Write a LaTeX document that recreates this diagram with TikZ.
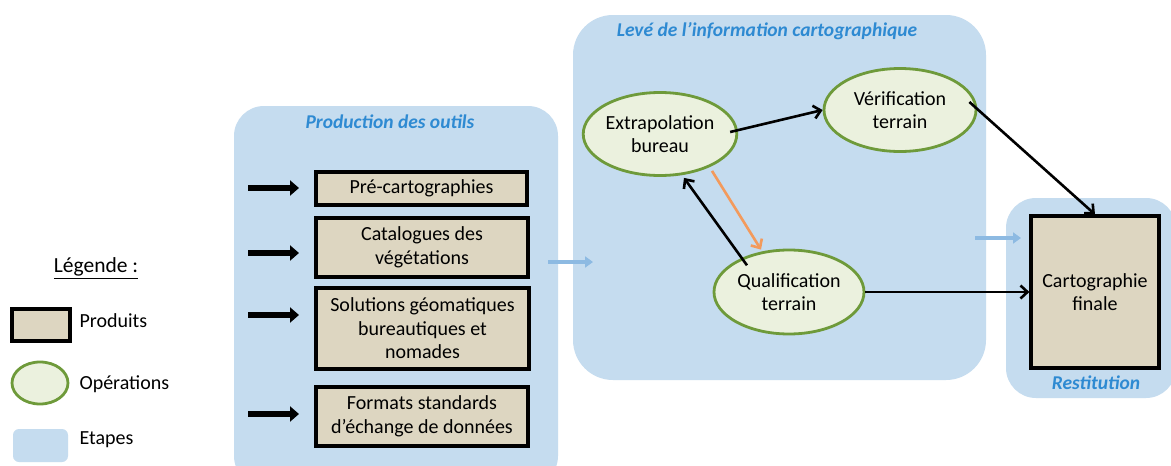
\documentclass[tikz,border=0pt]{standalone}
\usepackage{fontspec}
\setmainfont{Carlito}
\usetikzlibrary{shapes.geometric,arrows.meta}
\definecolor{stagefill}{HTML}{C5DCEF}
\definecolor{stagetitle}{HTML}{2E8AD2}
\definecolor{prodfill}{HTML}{DDD6C1}
\definecolor{opfill}{HTML}{EBF1DE}
\definecolor{opborder}{HTML}{6E9A3A}
\definecolor{bluearrow}{HTML}{8DBAE2}
\definecolor{orangearrow}{HTML}{F39A5C}
\tikzset{
  stagebox/.style={fill=stagefill, draw=none, rounded corners=30pt, inner sep=0pt},
  stagetitlestyle/.style={text=stagetitle, font=\fontsize{19.5}{23}\selectfont\bfseries\itshape},
  prodbox/.style={draw=black, line width=3.2pt, fill=prodfill, align=center, inner sep=2pt, font=\fontsize{20}{23.5}\selectfont},
  opellipse/.style={ellipse, draw=opborder, line width=2.8pt, fill=opfill, align=center, inner sep=0pt, font=\fontsize{20}{23.5}\selectfont},
  bigarrow/.style={line width=5.5pt, -{Triangle[length=9pt,width=15pt]}},
  flowarrow/.style={line width=2.6pt, -{Straight Barb[length=7pt,width=13pt]}},
  stagearrow/.style={line width=4pt, draw=bluearrow, -{Triangle[length=8pt,width=11pt]}},
  legtext/.style={anchor=west, font=\fontsize{20}{23.5}\selectfont},
}
\begin{document}
\begin{tikzpicture}[x=1pt,y=-1pt]
\useasboundingbox (0,0) rectangle (1171,466);
\fill[white] (0,0) rectangle (1171,466);

% stages
\node[stagebox, minimum width=324pt, minimum height=380pt] (s1) at (396,296) {};
\node[stagebox, minimum width=413pt, minimum height=365pt, rounded corners=40pt] (s2) at (779.5,197.5) {};
\node[stagebox, minimum width=170pt, minimum height=200pt] (s3) at (1091,298) {};
\node[stagetitlestyle] (t1) at (390,122) {Production des outils};
\node[stagetitlestyle] (t2) at (767,31) {Levé de l’information cartographique};
\node[stagetitlestyle] (t3) at (1096,383) {Restitution};

% products
\node[prodbox, minimum width=211pt, minimum height=33pt] (p1) at (421.5,188.5) {Pré-cartographies};
\node[prodbox, minimum width=212pt, minimum height=59pt] (p2) at (422,247.5) {Catalogues des\\végétations};
\node[prodbox, minimum width=213pt, minimum height=81pt] (p3) at (422.5,328.5) {Solutions géomatiques\\bureautiques et\\nomades};
\node[prodbox, minimum width=212pt, minimum height=59pt] (p4) at (422,416.5) {Formats standards\\d’échange de données};
\node[prodbox, minimum width=128pt, minimum height=152pt] (cf) at (1095,292) {Cartographie\\finale};

% operations
\node[opellipse, minimum width=152pt, minimum height=83pt] (ex) at (660,134) {Extrapolation\\bureau};
\node[opellipse, minimum width=152pt, minimum height=83pt] (ve) at (900,110) {Vérification\\terrain};
\node[opellipse, minimum width=150pt, minimum height=84pt] (qu) at (789,292) {Qualification\\terrain};

% black input arrows
\foreach \i/\y in {1/188,2/253,3/315,4/414}{
  \coordinate (a\i s) at (248,\y);
  \coordinate (a\i e) at (299,\y);
  \draw[bigarrow] (a\i s) -- (a\i e);
}

% stage arrows
\coordinate (b1s) at (548,262);
\coordinate (b1e) at (593,262);
\draw[stagearrow] (b1s) -- (b1e);
\coordinate (b2s) at (975,238);
\coordinate (b2e) at (1021,238);
\draw[stagearrow] (b2s) -- (b2e);

% flow arrows
\draw[flowarrow] (ex.east) ++(-8,-2) coordinate (exo) -- (ve.west);
\draw[flowarrow] ([xshift=-8pt,yshift=8pt]ve.east) -- (cf.north);
\draw[flowarrow] (qu.east) -- (qu.east -| cf.west);
\draw[flowarrow] (qu.north west) ++(12,4) coordinate (quo) -- ([xshift=24pt,yshift=-1pt]ex.south);
\draw[flowarrow, draw=orangearrow] ([xshift=52pt,yshift=6pt]ex.south) -- ([xshift=-28pt,yshift=-1pt]qu.north);

% legend
\node[font=\fontsize{21.5}{25}\selectfont] (lg) at (96,268) {\underline{Légende :}};
\node[draw=black, line width=3.2pt, fill=prodfill, minimum width=58pt, minimum height=32pt, inner sep=0pt] (lp) at (41,325) {};
\node[legtext] (lpt) at (76,321) {Produits};
\node[ellipse, draw=opborder, line width=2.8pt, fill=opfill, minimum width=56pt, minimum height=42pt, inner sep=0pt] (lo) at (40,383) {};
\node[legtext] (lot) at (76,384) {Opérations};
\node[fill=stagefill, rounded corners=6pt, minimum width=55pt, minimum height=33pt, inner sep=0pt] (le) at (40.5,445.5) {};
\node[legtext] (let) at (76,440) {Etapes};
\end{tikzpicture}
\end{document}
